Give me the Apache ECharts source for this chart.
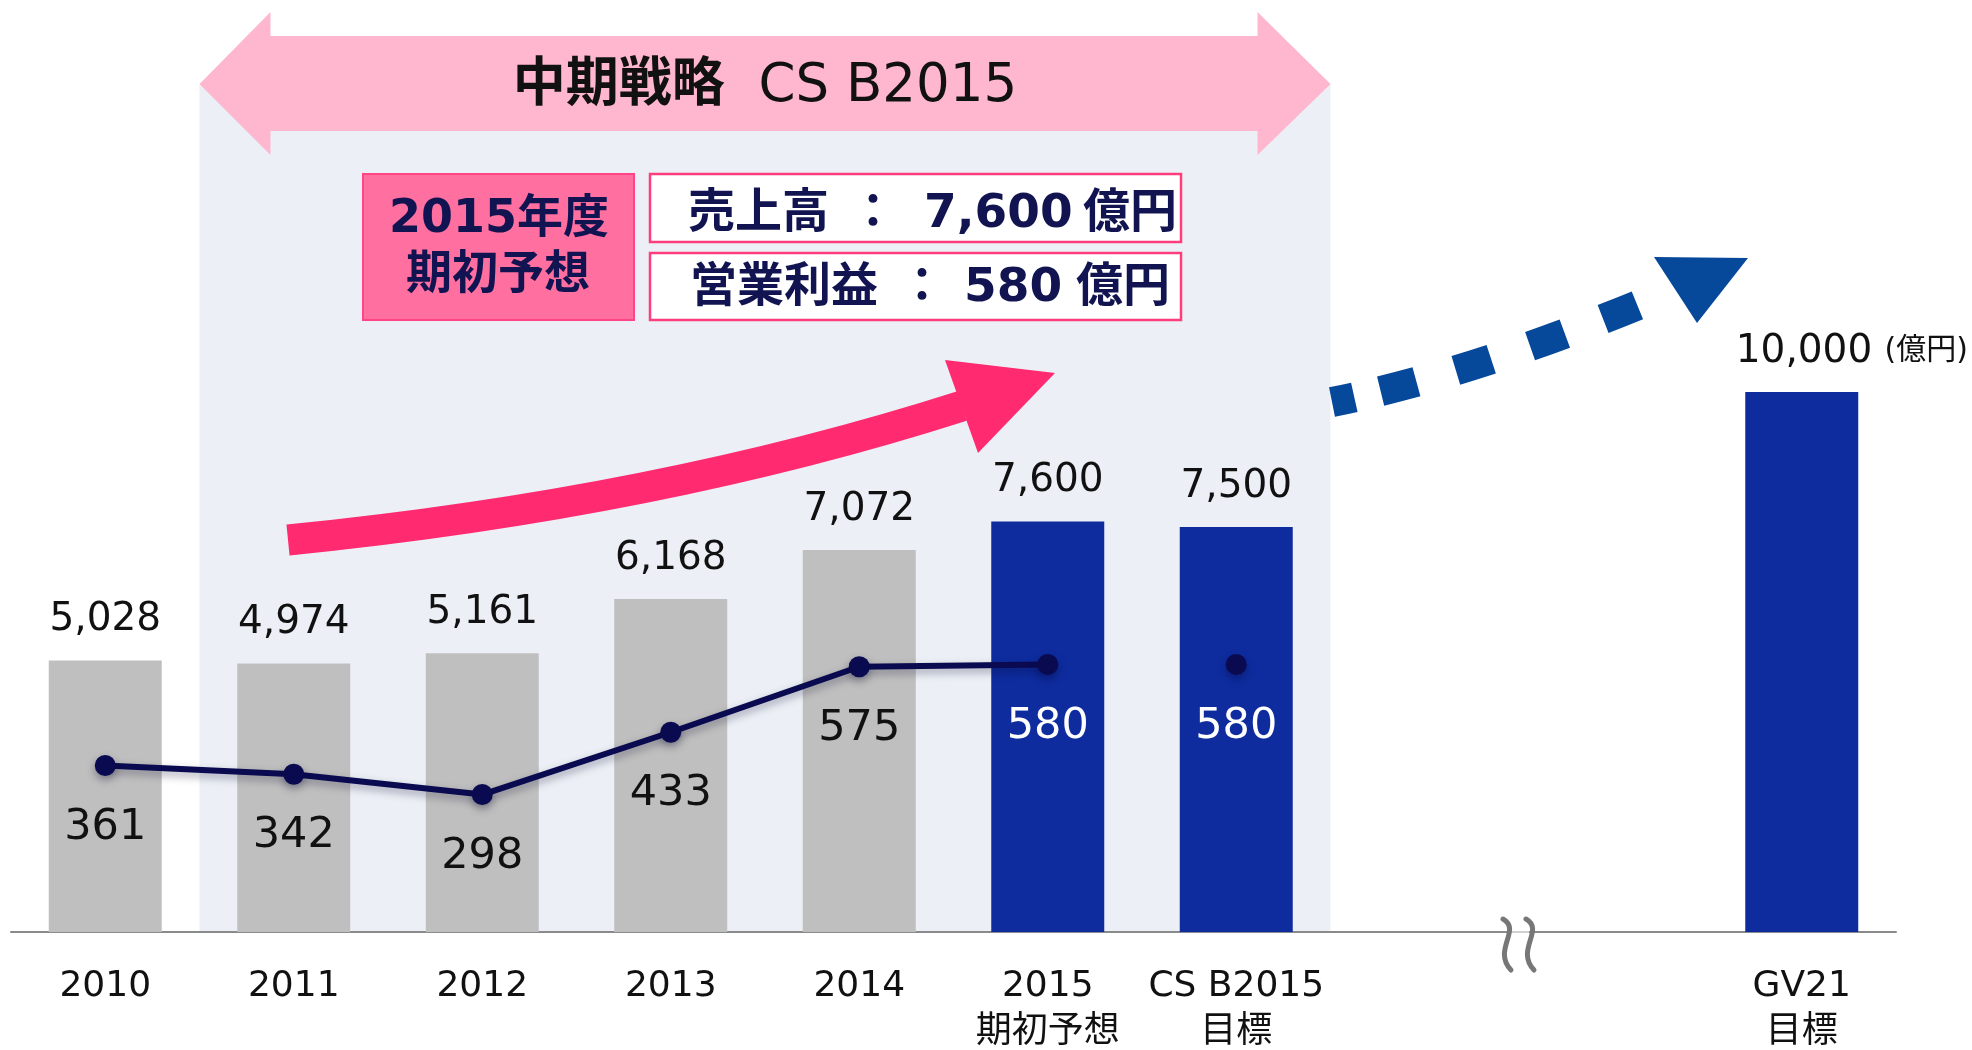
<!DOCTYPE html>
<html>
<head>
<meta charset="utf-8">
<title>CS B2015</title>
<script src="https://cdn.jsdelivr.net/npm/echarts@6/dist/echarts.min.js"></script>
<style>
	html,body{margin:0;padding:0;background:#fff;}
	#container{width:1972px;height:1050px;}
</style>
</head>
<body>
<div id="container"></div>
<script>
// 売上高 / 営業利益 (億円)
var categories = ['2010', '2011', '2012', '2013', '2014', '2015\n期初予想', 'CS B2015\n目標', '', '', 'GV21\n目標'];
var sales = [5028, 4974, 5161, 6168, 7072, 7600, 7500, '-', '-', 10000];
var actualCount = 5;   // 2010-2014 are results, the rest plan / target
var profit = [361, 342, 298, 433, 575, 580];            // results + 2015 forecast
var profitTarget = ['-', '-', '-', '-', '-', '-', 580]; // CS B2015 target

var FONT = "'DejaVu Sans', 'Noto Sans CJK JP', sans-serif";
var NAVY = '#111450';
var PINK = '#FF2A70';

function fmt(v){
	return String(v).replace(/\B(?=(\d{3})+(?!\d))/g, ',');
}

var dom = document.getElementById('container');
var myChart = echarts.init(dom);

var barData = sales.map(function(v, i){
	var item = {
		value: v,
		itemStyle: {color: i < actualCount ? '#BFBFBF' : '#0E2C9E'}
	};
	if (i === sales.length - 1) {
		item.label = {
			align: 'left',
			offset: [-66, 0],
			formatter: function(p){ return '{v|' + fmt(p.value) + '} {u|(億円)}'; },
			rich: {
				v: {fontSize: 39, fontFamily: FONT, color: '#111'},
				u: {fontSize: 30, fontFamily: FONT, color: '#111'}
			}
		};
	}
	return item;
});

function profitLabel(i){
	return {color: i < actualCount ? '#111' : '#fff'};
}

var option = {
	animation: false,
	grid: {left: 11, right: 76, top: 14, bottom: 118, outerBoundsMode: 'none', containLabel: false},
	xAxis: {
		type: 'category',
		data: categories,
		axisTick: {show: false},
		axisLine: {lineStyle: {color: '#8A8A8A', width: 2}},
		axisLabel: {
			interval: 0,
			margin: 32,
			color: '#111',
			fontSize: 36,
			lineHeight: 46,
			fontFamily: FONT
		}
	},
	yAxis: [
		{type: 'value', min: 0, max: 17000, show: false, splitLine: {show: false}},
		{type: 'value', min: 0, max: 1990, show: false, splitLine: {show: false}}
	],
	series: [{
		name: '売上高',
		type: 'bar',
		barWidth: 113,
		data: barData,
		label: {
			show: true,
			position: 'top',
			distance: 21,
			color: '#111',
			fontSize: 39,
			fontFamily: FONT,
			formatter: function(p){ return fmt(p.value); }
		}
	}, {
		name: '営業利益',
		type: 'line',
		yAxisIndex: 1,
		z: 5,
		data: profit.map(function(v, i){ return {value: v, label: profitLabel(i)}; }),
		symbol: 'circle',
		symbolSize: 21,
		lineStyle: {color: '#0A0A50', width: 6, shadowColor: 'rgba(0,0,40,0.35)', shadowBlur: 8, shadowOffsetY: 4},
		itemStyle: {color: '#0A0A50', shadowColor: 'rgba(0,0,40,0.35)', shadowBlur: 8, shadowOffsetY: 4},
		label: {
			show: true,
			position: 'inside',
			offset: [0, 62],
			fontSize: 43,
			fontFamily: FONT
		}
	}, {
		name: '営業利益目標',
		type: 'scatter',
		yAxisIndex: 1,
		z: 5,
		data: profitTarget,
		symbol: 'circle',
		symbolSize: 21,
		itemStyle: {color: '#0A0A50', opacity: 1, shadowColor: 'rgba(0,0,40,0.35)', shadowBlur: 8, shadowOffsetY: 4},
		label: {
			show: true,
			position: 'inside',
			offset: [0, 62],
			color: '#fff',
			opacity: 1,
			fontSize: 43,
			fontFamily: FONT
		}
	}]
};
myChart.setOption(option);

// 装飾 (背景・矢印・囲み) はグリッドの位置から組み立てる
var px = function(i){ return myChart.convertToPixel({xAxisIndex: 0}, i); };
var band = px(1) - px(0);
var y0 = myChart.convertToPixel({yAxisIndex: 0}, 0);
var xL = px(1) - band / 2;
var xR = px(6) + band / 2;
var xBreak = (px(7) + px(8)) / 2;

function txt(text, x, y, size, weight, align, color){
	return {
		type: 'text', z: 20,
		style: {
			text: text, x: x, y: y,
			fontSize: size, fontWeight: weight || 'normal', fontFamily: FONT,
			fill: color || NAVY,
			align: align || 'center', verticalAlign: 'middle',
			textAlign: align || 'center', textVerticalAlign: 'middle'
		}
	};
}

function wave(cx){
	return {
		type: 'bezierCurve', z: 20,
		shape: {x1: cx - 5, y1: y0 - 13, cpx1: cx + 14, cpy1: y0 - 2, cpx2: cx - 16, cpy2: y0 + 18, x2: cx + 3, y2: y0 + 38},
		style: {stroke: '#777', lineWidth: 5, fill: null, lineCap: 'round'}
	};
}

var graphic = [
	// CS B2015 期間の背景
	{type: 'rect', z: -1, shape: {x: xL, y: 84, width: xR - xL, height: y0 - 84}, style: {fill: '#ECF0F6'}},
	// 両矢印
	{type: 'polygon', z: 10, shape: {points: [
		[xL, 84], [xL + 71, 12], [xL + 71, 36], [xR - 73, 36], [xR - 73, 12],
		[xR, 84], [xR - 73, 155], [xR - 73, 131], [xL + 71, 131], [xL + 71, 155]
	]}, style: {fill: '#FFB7CF'}},
	{type: 'text', z: 20, style: {
		text: '{b|中期戦略}{n|  CS B2015}', x: (xL + xR) / 2, y: 87,
		align: 'center', verticalAlign: 'middle', textAlign: 'center', textVerticalAlign: 'middle',
		rich: {
			b: {fontSize: 53, fontWeight: 'bold', fontFamily: FONT, fill: '#111', color: '#111'},
			n: {fontSize: 53, fontFamily: FONT, fill: '#111', color: '#111'}
		}
	}},
	// 2015年度 期初予想 の囲み
	{type: 'rect', z: 10, shape: {x: 363, y: 174, width: 271, height: 146}, style: {fill: '#FF6FA0', stroke: '#FF4585', lineWidth: 2}},
	{type: 'rect', z: 10, shape: {x: 650, y: 174, width: 531, height: 68}, style: {fill: '#fff', stroke: '#FF3C7C', lineWidth: 2.5}},
	{type: 'rect', z: 10, shape: {x: 650, y: 253, width: 531, height: 67}, style: {fill: '#fff', stroke: '#FF3C7C', lineWidth: 2.5}},
	txt('2015年度', 499, 220, 46, 'bold'),
	txt('期初予想', 498, 276, 46, 'bold'),
	txt('売上高', 688, 215, 47, 'bold', 'left'),
	txt('：', 873, 215, 47, 'bold'),
	txt(fmt(sales[5]), 924, 215, 47, 'bold', 'left'),
	txt('億円', 1083, 215, 47, 'bold', 'left'),
	txt('営業利益', 690, 289, 47, 'bold', 'left'),
	txt('：', 922, 289, 47, 'bold'),
	txt(fmt(profit[5]), 964, 289, 47, 'bold', 'left'),
	txt('億円', 1076, 289, 47, 'bold', 'left'),
	// 成長の矢印
	{type: 'bezierCurve', z: 10, shape: {x1: 288, y1: 540, cpx1: 659, cpy1: 503, x2: 962, y2: 406},
		style: {stroke: PINK, lineWidth: 31, fill: null, lineCap: 'butt'}},
	{type: 'polygon', z: 10, shape: {points: [[945, 360], [1055, 373], [978, 453]]}, style: {fill: PINK}},
	// GV21 への点線矢印
	{type: 'bezierCurve', z: 10, shape: {x1: 1332, y1: 402, cpx1: 1476, cpy1: 373, x2: 1660, y2: 296},
		style: {stroke: '#06489A', lineWidth: 30, fill: null, lineCap: 'butt', lineDash: [23, 27, 37, 41, 37, 41, 37, 41, 37, 120]}},
	{type: 'polygon', z: 10, shape: {points: [[1654, 257], [1748, 258], [1697, 323]]}, style: {fill: '#06489A'}},
	// 省略記号
	{type: 'rect', z: 19, shape: {x: xBreak - 10, y: y0 - 1, width: 20, height: 2}, style: {fill: '#D0D0D0'}},
	wave(xBreak - 11),
	wave(xBreak + 12)
];
myChart.setOption({graphic: graphic});
</script>
</body>
</html>
